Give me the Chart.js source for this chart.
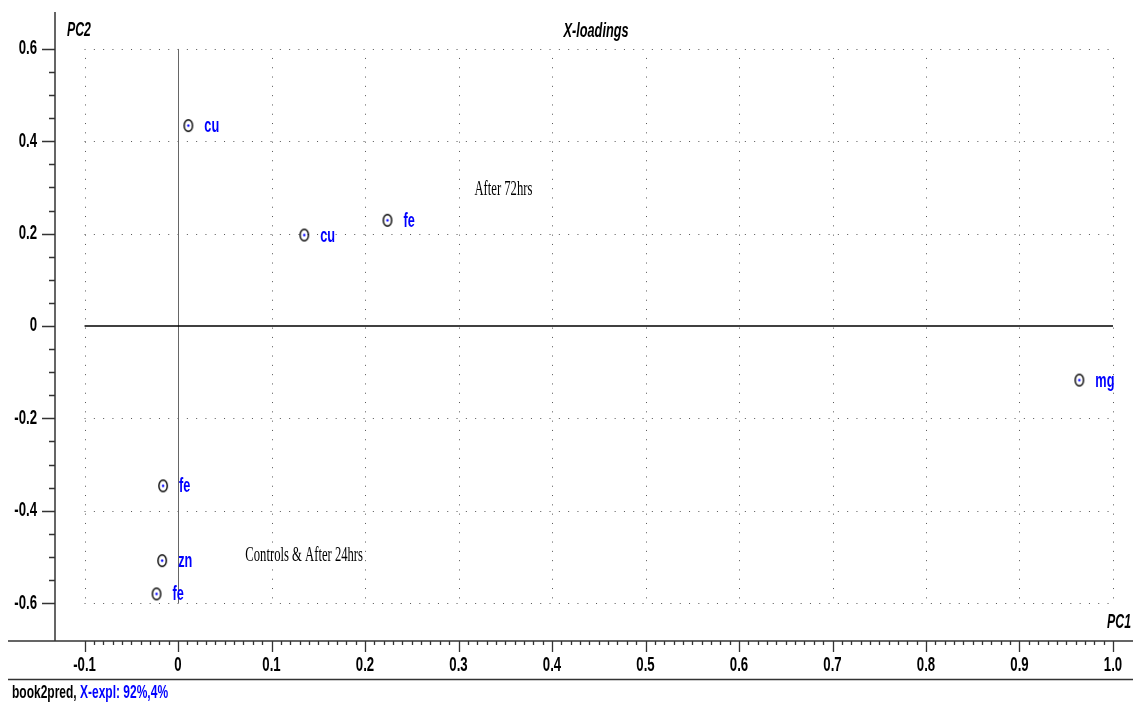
<!DOCTYPE html>
<html>
<head>
<meta charset="utf-8">
<script src="https://cdn.jsdelivr.net/npm/chart.js@4/dist/chart.umd.min.js"></script>
<style>
  html, body { margin: 0; padding: 0; background: #fff; }
  canvas { display: block; }
</style>
</head>
<body>
<canvas id="loadings" width="1133" height="705"></canvas>
<script>
// PCA X-loadings, PC1 vs PC2
const varNames = ["cu", "cu", "fe", "mg", "fe", "zn", "fe"]
const pc1 = [0.011, 0.135, 0.224, 0.964, -0.016, -0.017, -0.023]
const pc2 = [0.434, 0.197, 0.229, -0.117, -0.346, -0.508, -0.580]

const xTicks = [-0.1, 0, 0.1, 0.2, 0.3, 0.4, 0.5, 0.6, 0.7, 0.8, 0.9, 1.0]
const xTickLabels = ["-0.1", "0", "0.1", "0.2", "0.3", "0.4", "0.5", "0.6", "0.7", "0.8", "0.9", "1.0"]
const yTicks = [0.6, 0.4, 0.2, 0, -0.2, -0.4, -0.6]
const yTickLabels = ["0.6", "0.4", "0.2", "0", "-0.2", "-0.4", "-0.6"]

const groupNotes = [
  { text: "After 72hrs", x: 0.317, y: 0.295 },
  { text: "Controls & After 24hrs", x: 0.072, y: -0.496 },
]

const SANS = "'Liberation Sans', Arial, sans-serif"
const SERIF = "'Liberation Serif', 'Times New Roman', serif"
const BLUE = "#0000ff"

// ring with a dot in the middle, taller than wide
function makeMarker() {
  const c = document.createElement("canvas")
  c.width = 12
  c.height = 15
  const g = c.getContext("2d")
  g.strokeStyle = "#000"
  g.lineWidth = 1.4
  g.beginPath()
  g.ellipse(6, 7.5, 4.2, 5.8, 0, 0, Math.PI * 2)
  g.stroke()
  g.fillStyle = BLUE
  g.beginPath()
  g.arc(6, 7.5, 1.2, 0, Math.PI * 2)
  g.fill()
  return c
}

// text squeezed sideways and stretched up
function stretchedText(ctx, text, x, y, sx, sy) {
  ctx.save()
  ctx.translate(x, y)
  ctx.scale(sx, sy)
  ctx.fillText(text, 0, 0)
  ctx.restore()
}

function dottedLine(ctx, x1, y1, x2, y2) {
  ctx.save()
  ctx.strokeStyle = "#555"
  ctx.lineWidth = 1
  ctx.setLineDash([1, 8.3])
  ctx.beginPath()
  ctx.moveTo(x1, y1)
  ctx.lineTo(x2, y2)
  ctx.stroke()
  ctx.restore()
}

const framePlugin = {
  id: "frame",
  beforeDatasetsDraw(chart) {
    const { ctx, chartArea: area, scales: { x, y } } = chart
    const xl = x.getPixelForValue(-0.1), xr = x.getPixelForValue(1.0)
    const yt = y.getPixelForValue(0.6), yb = y.getPixelForValue(-0.6)

    // dotted grid inside the tick range
    yTicks.forEach(v => {
      if (v !== 0) dottedLine(ctx, xl, Math.round(y.getPixelForValue(v)) + 0.5, xr + 1, Math.round(y.getPixelForValue(v)) + 0.5)
    })
    xTicks.forEach(v => {
      if (v !== 0) dottedLine(ctx, Math.round(x.getPixelForValue(v)) + 0.5, yt + 9, Math.round(x.getPixelForValue(v)) + 0.5, yb)
    })

    // zero lines
    ctx.save()
    ctx.strokeStyle = "#666"
    ctx.lineWidth = 1
    ctx.beginPath()
    ctx.moveTo(Math.round(x.getPixelForValue(0)) + 0.5, yt)
    ctx.lineTo(Math.round(x.getPixelForValue(0)) + 0.5, yb)
    ctx.stroke()
    ctx.strokeStyle = "#000"
    ctx.lineWidth = 1.5
    ctx.beginPath()
    ctx.moveTo(xl, y.getPixelForValue(0))
    ctx.lineTo(xr, y.getPixelForValue(0))
    ctx.stroke()

    // axis lines
    ctx.strokeStyle = "#333"
    ctx.lineWidth = 1.5
    ctx.beginPath()
    ctx.moveTo(area.left, area.top)
    ctx.lineTo(area.left, area.bottom)
    ctx.moveTo(8, area.bottom)
    ctx.lineTo(chart.width, area.bottom)
    ctx.stroke()

    // y ticks: major every 0.2, minor every 0.05
    ctx.lineWidth = 1.3
    ctx.beginPath()
    for (let i = -12; i <= 12; i++) {
      const py = Math.round(y.getPixelForValue(i * 0.05)) + 0.5
      const len = i % 4 === 0 ? 13 : 6
      ctx.moveTo(area.left - len, py)
      ctx.lineTo(area.left, py)
    }
    // x ticks: major every 0.1, minor every 0.01
    for (let i = -10; i <= 100; i++) {
      const px = Math.round(x.getPixelForValue(i * 0.01)) + 0.5
      const len = i % 10 === 0 ? 11 : 4
      ctx.moveTo(px, area.bottom)
      ctx.lineTo(px, area.bottom + len)
    }
    ctx.stroke()

    // tick labels
    ctx.fillStyle = "#000"
    ctx.font = "bold 15px " + SANS
    ctx.textAlign = "right"
    ctx.textBaseline = "middle"
    yTicks.forEach((v, i) => stretchedText(ctx, yTickLabels[i], 37, y.getPixelForValue(v), 0.88, 1.3))
    ctx.textAlign = "center"
    xTicks.forEach((v, i) => stretchedText(ctx, xTickLabels[i], x.getPixelForValue(v), 666, 0.88, 1.3))

    // axis names and title
    ctx.font = "italic 600 15px " + SANS
    ctx.textAlign = "left"
    stretchedText(ctx, "PC2", 67, 31, 0.82, 1.3)
    ctx.textAlign = "right"
    stretchedText(ctx, "PC1", 1131, 623, 0.82, 1.3)
    ctx.textAlign = "center"
    stretchedText(ctx, "X-loadings", 596, 32, 0.85, 1.3)

    // group annotations
    ctx.font = "16px " + SERIF
    ctx.textAlign = "left"
    groupNotes.forEach(n => stretchedText(ctx, n.text, x.getPixelForValue(n.x), y.getPixelForValue(n.y), 0.79, 1.3))

    // footer
    ctx.strokeStyle = "#333"
    ctx.lineWidth = 1.5
    ctx.beginPath()
    ctx.moveTo(8, 679.5)
    ctx.lineTo(chart.width, 679.5)
    ctx.stroke()
    ctx.font = "bold 15px " + SANS
    ctx.fillStyle = "#000"
    stretchedText(ctx, "book2pred,", 12, 693, 0.8, 1.25)
    const w = ctx.measureText("book2pred, ").width * 0.8
    ctx.fillStyle = BLUE
    stretchedText(ctx, "X-expl: 92%,4%", 12 + w, 693, 0.8, 1.25)
    ctx.restore()
  },
  afterDatasetsDraw(chart) {
    const { ctx } = chart
    const meta = chart.getDatasetMeta(0)
    ctx.save()
    ctx.fillStyle = BLUE
    ctx.font = "bold 15px " + SANS
    ctx.textAlign = "left"
    ctx.textBaseline = "middle"
    meta.data.forEach((pt, i) => stretchedText(ctx, varNames[i], pt.x + 16, pt.y + 1, 0.85, 1.35))
    ctx.restore()
  }
}

new Chart(document.getElementById("loadings"), {
  type: "scatter",
  data: {
    datasets: [{
      data: pc1.map((v, i) => ({ x: v, y: pc2[i] })),
      pointStyle: makeMarker(),
      pointRadius: 7,
    }]
  },
  options: {
    responsive: false,
    animation: false,
    layout: { autoPadding: false, padding: { left: 55, top: 12, right: 0, bottom: 64 } },
    plugins: { legend: { display: false }, tooltip: { enabled: false } },
    scales: {
      x: { type: "linear", min: -0.1316, max: 1.0214, display: false },
      y: { type: "linear", min: -0.682, max: 0.680, display: false },
    }
  },
  plugins: [framePlugin]
})
</script>
</body>
</html>
